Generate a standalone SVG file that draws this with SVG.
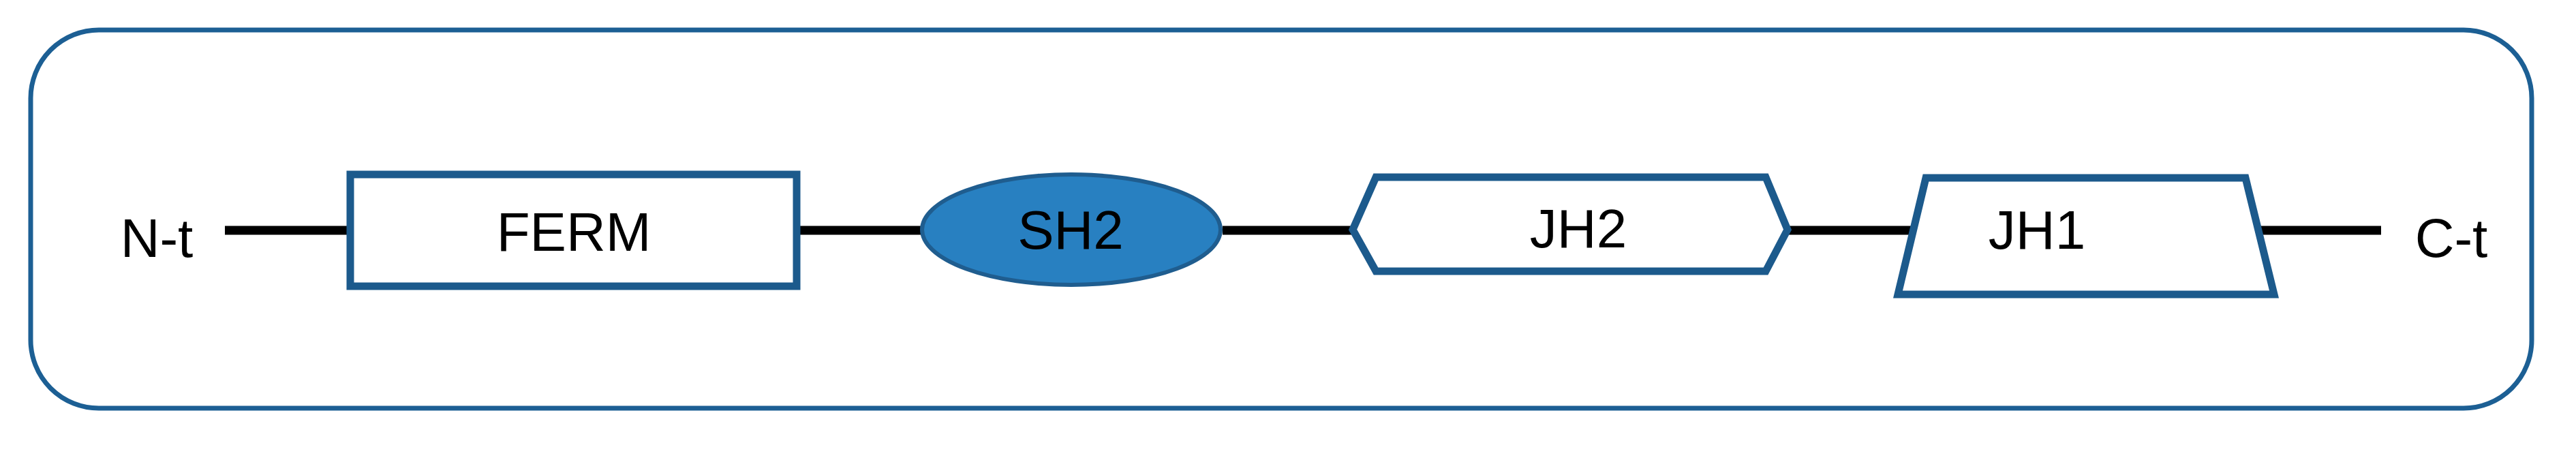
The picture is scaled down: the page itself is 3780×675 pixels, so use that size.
<svg xmlns="http://www.w3.org/2000/svg" width="3780" height="675" viewBox="0 0 3780 675">
<style>
.dom{fill:#ffffff;stroke:#1c5a8c;stroke-width:11;stroke-linejoin:miter}
.lbl{font-family:"Liberation Sans",Arial,sans-serif;font-size:80px;fill:#000;text-anchor:middle}
.link{stroke:#000;stroke-width:13;fill:none}
</style>
<rect x="0" y="0" width="3780" height="675" fill="#fff"/>
<rect id="frame" x="45" y="44" width="3670" height="555" rx="100" ry="100" fill="#fff" stroke="#1c5f94" stroke-width="7"/>
<g id="connectors">
<line class="link" x1="330" y1="338" x2="512" y2="338"/>
<line class="link" x1="1172" y1="338" x2="1352" y2="338"/>
<line class="link" x1="1794" y1="338" x2="1984" y2="338"/>
<line class="link" x1="2625" y1="338" x2="2806" y2="338"/>
<line class="link" x1="3316" y1="338" x2="3494" y2="338"/>
</g>
<g id="nt"><text class="lbl" x="230" y="377">N-t</text></g>
<g id="ferm"><rect class="dom" x="514" y="256" width="655" height="164"/><text class="lbl" x="842" y="368">FERM</text></g>
<g id="sh2"><ellipse cx="1572" cy="337" rx="219" ry="81" fill="#2880c1" stroke="#1f5d8f" stroke-width="6"/><text class="lbl" x="1571" y="365">SH2</text></g>
<g id="jh2"><polygon class="dom" points="1985,337 2019,260 2591,260 2623,337 2591,398 2019,398"/><text class="lbl" x="2316" y="363">JH2</text></g>
<g id="jh1"><polygon class="dom" points="2826,261 3295,261 3337,432 2785,432"/><text class="lbl" x="2989" y="365">JH1</text></g>
<g id="ct"><text class="lbl" x="3597" y="377">C-t</text></g>
</svg>
